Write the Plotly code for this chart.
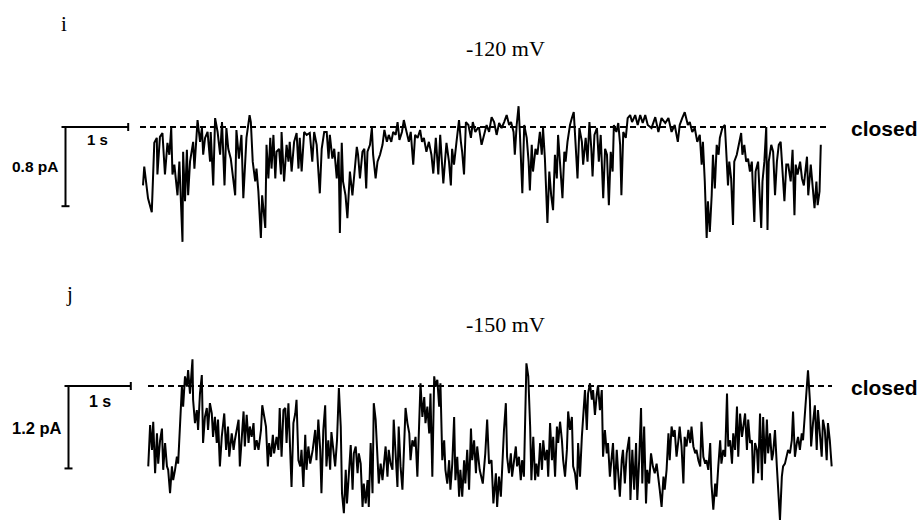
import plotly.graph_objects as go

W, H = 924, 520

# ---------------- data: trace i (-120 mV), time in s, current in pA (0 = closed) ----------------
t1a = [0.00, 0.02, 0.08, 0.14, 0.18, 0.22, 0.23, 0.27, 0.31, 0.35,
       0.39, 0.42, 0.45, 0.47, 0.50, 0.53, 0.55, 0.58, 0.63, 0.64,
       0.67, 0.70, 0.72, 0.75, 0.80, 0.82, 0.87, 0.91, 0.94, 0.96,
       0.99, 1.03, 1.07, 1.08, 1.12, 1.15, 1.19, 1.23, 1.26, 1.30,
       1.33, 1.36, 1.40, 1.47, 1.49, 1.53, 1.57, 1.60, 1.63, 1.65,
       1.70, 1.72, 1.75, 1.79, 1.81, 1.84, 1.88, 1.90, 1.95, 1.97,
       2.00, 2.03, 2.05, 2.08, 2.11, 2.13, 2.17, 2.20, 2.21, 2.25,
       2.29, 2.32, 2.34, 2.37, 2.41, 2.45, 2.48, 2.50, 2.53, 2.57,
       2.61]
i1a = [-0.59, -0.40, -0.72, -0.86, -0.16, -0.11, -0.48, -0.10, -0.06, -0.48,
       -0.16, -0.28, -0.01, -0.48, -0.38, -0.62, -0.69, -0.35, -1.16, -0.25,
       -0.75, -0.23, -0.69, -0.35, -0.15, -0.42, 0.07, -0.15, -0.01, -0.28,
       -0.11, -0.05, -0.35, -0.05, -0.59, 0.09, -0.05, -0.28, 0.05, -0.59,
       -0.01, -0.22, -0.32, -0.69, -0.03, -0.32, -0.08, -0.72, -0.35, -0.11,
       0.12, 0.05, -0.35, -0.55, -0.42, -0.65, -1.12, -0.69, -1.02, -0.18,
       -0.52, -0.11, -0.42, -0.08, -0.52, -0.25, -0.22, -0.48, -0.05, -0.55,
       -0.18, -0.35, -0.15, -0.45, -0.15, -0.06, -0.42, -0.11, -0.45, -0.05,
       -0.08]
t1b = [2.66, 2.70, 2.73, 2.77, 2.82, 2.85, 2.89, 2.93, 2.96, 2.98,
       3.02, 3.05, 3.09, 3.12, 3.14, 3.17, 3.19, 3.23, 3.26, 3.30,
       3.34, 3.37, 3.41, 3.43, 3.46, 3.50, 3.53, 3.56, 3.58, 3.62,
       3.65, 3.67, 3.71, 3.74, 3.78, 3.82, 3.85, 3.89, 3.92, 3.96,
       3.99, 4.03, 4.06, 4.09, 4.13, 4.16, 4.21, 4.24, 4.27, 4.31,
       4.34, 4.38, 4.42, 4.45, 4.48, 4.52, 4.56, 4.60, 4.63, 4.67,
       4.71, 4.74, 4.76, 4.79, 4.82, 4.84, 4.88, 4.91, 4.93, 4.96,
       5.00, 5.04, 5.07, 5.09, 5.12, 5.15, 5.19, 5.23, 5.26, 5.30,
       5.34]
i1b = [-0.06, -0.35, -0.05, -0.18, -0.67, -0.22, -0.05, -0.05, -0.32, -0.08,
       -0.32, -0.22, -0.52, -0.25, -1.07, -0.16, -0.55, -0.69, -0.92, -0.45,
       -0.69, -0.48, -0.20, -0.28, -0.52, -0.25, -0.22, -0.62, -0.25, -0.18,
       -0.01, -0.28, -0.52, -0.35, -0.28, -0.18, -0.03, -0.15, -0.08, -0.15,
       -0.05, -0.08, 0.05, -0.13, -0.05, 0.07, -0.05, -0.15, -0.05, -0.38,
       -0.08, -0.11, -0.03, -0.15, -0.11, -0.25, -0.15, -0.28, -0.47, -0.11,
       -0.48, -0.08, -0.28, -0.57, -0.32, -0.16, -0.35, -0.59, -0.22, -0.38,
       -0.15, 0.07, -0.15, -0.25, -0.48, 0.05, 0.02, -0.11, 0.05, -0.05,
       -0.01]
t1c = [5.36, 5.40, 5.44, 5.48, 5.52, 5.56, 5.60, 5.64, 5.68, 5.72,
       5.76, 5.80, 5.84, 5.87, 5.91, 5.93, 5.96, 5.99, 6.01, 6.05,
       6.08, 6.12, 6.15, 6.17, 6.20, 6.22, 6.26, 6.29, 6.33, 6.36,
       6.38, 6.41, 6.45, 6.48, 6.51, 6.54, 6.57, 6.60, 6.62, 6.65,
       6.69, 6.72, 6.74, 6.77, 6.81, 6.84, 6.87, 6.90, 6.93, 6.96,
       7.00, 7.02, 7.06, 7.09, 7.12, 7.15, 7.17, 7.20, 7.24, 7.27,
       7.30, 7.34, 7.37, 7.40, 7.43, 7.46, 7.49, 7.51, 7.55, 7.58,
       7.61, 7.63, 7.66, 7.70, 7.73, 7.77, 7.80, 7.85, 7.89, 7.93,
       7.97, 8.01, 8.05]
i1c = [-0.01, -0.18, -0.08, 0.02, -0.05, 0.10, 0.05, -0.08, 0.04, -0.01,
       0.05, 0.12, 0.02, 0.05, -0.05, -0.28, 0.02, 0.21, -0.05, -0.67,
       0.02, -0.11, -0.35, -0.64, -0.18, -0.45, -0.22, -0.28, -0.05, -0.28,
       -0.01, -0.32, -0.97, -0.45, -0.69, -0.84, -0.28, -0.52, -0.08, -0.35,
       -0.72, -0.25, -0.35, -0.15, 0.02, 0.09, 0.15, -0.18, -0.52, -0.01,
       -0.15, -0.38, -0.11, -0.35, 0.05, -0.22, -0.50, -0.08, -0.01, -0.35,
       -0.08, -0.72, -0.22, -0.28, -0.79, -0.25, -0.45, 0.02, -0.05, 0.04,
       -0.18, -0.69, -0.05, -0.11, 0.09, 0.12, 0.05, 0.12, 0.02, 0.12,
       0.04, 0.12, 0.02]
t1d = [8.11, 8.17, 8.22, 8.27, 8.33, 8.38, 8.43, 8.48, 8.53, 8.56,
       8.60, 8.64, 8.69, 8.72, 8.76, 8.80, 8.84, 8.88, 8.91, 8.93,
       8.96, 8.99, 9.01, 9.04, 9.07, 9.09, 9.12, 9.15, 9.18, 9.20,
       9.24, 9.28, 9.30, 9.33, 9.35, 9.38, 9.41, 9.43, 9.47, 9.51,
       9.54, 9.56, 9.59, 9.62, 9.65, 9.68, 9.71, 9.75, 9.77, 9.81,
       9.83, 9.86, 9.88, 9.91, 9.94, 9.96, 9.98, 10.02, 10.05, 10.08,
       10.11, 10.14, 10.17, 10.20, 10.23, 10.26, 10.29, 10.33, 10.36, 10.39,
       10.41, 10.44, 10.48, 10.51, 10.54, 10.59, 10.61, 10.65, 10.68, 10.71,
       10.74, 10.76, 10.79, 10.81]
i1d = [-0.01, 0.10, -0.05, 0.09, 0.04, 0.09, -0.05, 0.02, -0.15, 0.02,
       0.09, 0.15, 0.02, 0.05, -0.05, -0.01, -0.15, -0.08, -0.38, -0.15,
       -0.55, -1.12, -0.75, -1.06, -0.69, -0.28, -0.62, -0.18, -0.28, -0.11,
       -0.01, 0.02, -0.22, -0.59, -0.35, -0.52, -0.99, -0.35, -0.28, -0.15,
       -0.06, -0.28, -0.18, -0.35, -0.32, -0.45, -0.35, -0.96, -0.45, -0.35,
       -0.69, -1.02, -0.55, -0.35, 0.00, -1.04, -0.35, -0.18, -0.25, -0.69,
       -0.35, -0.18, -0.15, -0.45, -0.75, -0.38, -0.38, -0.55, -0.23, -0.89,
       -0.38, -0.48, -0.35, -0.52, -0.59, -0.30, -0.69, -0.38, -0.59, -0.82,
       -0.55, -0.79, -0.65, -0.18]

# ---------------- data: trace j (-150 mV) ----------------
t2a = [0.02, 0.05, 0.08, 0.10, 0.13, 0.16, 0.18, 0.21, 0.24, 0.26,
       0.29, 0.32, 0.34, 0.37, 0.40, 0.42, 0.45, 0.48, 0.50, 0.53,
       0.56, 0.58, 0.61, 0.64, 0.66, 0.69, 0.73, 0.74, 0.77, 0.80,
       0.82, 0.85, 0.88, 0.90, 0.93, 0.96, 0.98, 1.01, 1.04, 1.06,
       1.09, 1.12, 1.14, 1.17, 1.20, 1.24, 1.27, 1.30, 1.32, 1.36,
       1.39, 1.41, 1.44, 1.47, 1.49, 1.52, 1.55, 1.57, 1.60, 1.63,
       1.65, 1.68, 1.71, 1.73, 1.76, 1.79, 1.83, 1.85, 1.88, 1.91,
       1.94, 1.96, 1.99, 2.02, 2.04, 2.08, 2.11, 2.13, 2.16, 2.19,
       2.22, 2.24, 2.27, 2.30, 2.32, 2.35, 2.38, 2.40, 2.43, 2.46,
       2.48, 2.51, 2.54, 2.56, 2.59, 2.62, 2.66]
i2a = [-1.17, -0.57, -0.93, -0.52, -1.27, -0.69, -1.13, -0.79, -0.62, -1.22,
       -0.83, -1.17, -1.22, -1.56, -1.17, -1.37, -1.22, -1.03, -1.13, -0.45,
       -0.01, -0.30, 0.14, -0.01, 0.23, -0.11, 0.39, -0.20, -0.54, -0.35,
       -0.64, -0.11, 0.16, -0.83, -0.45, -0.32, -0.64, -0.25, -0.40, -0.74,
       -0.45, -0.83, -0.49, -1.17, -0.74, -0.40, -0.93, -0.59, -1.03, -0.69,
       -0.93, -0.79, -0.64, -0.49, -1.17, -0.74, -0.37, -0.88, -0.42, -0.83,
       -0.59, -0.74, -0.54, -0.93, -0.79, -0.93, -0.64, -0.28, -0.45, -0.59,
       -1.17, -0.83, -1.03, -0.71, -0.98, -0.74, -0.93, -0.32, -1.03, -0.35,
       -0.32, -0.83, -0.25, -0.93, -1.47, -0.54, -0.40, -0.20, -1.08, -1.17,
       -0.93, -1.47, -0.71, -1.22, -0.88, -1.13, -0.93]
t2b = [2.70, 2.72, 2.75, 2.78, 2.80, 2.83, 2.86, 2.88, 2.91, 2.94,
       2.96, 2.99, 3.02, 3.05, 3.08, 3.11, 3.13, 3.16, 3.19, 3.21,
       3.24, 3.27, 3.30, 3.32, 3.35, 3.38, 3.40, 3.43, 3.46, 3.48,
       3.51, 3.54, 3.56, 3.59, 3.62, 3.64, 3.67, 3.70, 3.72, 3.75,
       3.78, 3.80, 3.83, 3.86, 3.88, 3.91, 3.94, 3.96, 3.99, 4.02,
       4.04, 4.07, 4.10, 4.13, 4.15, 4.18, 4.21, 4.23, 4.26, 4.29,
       4.31, 4.34, 4.37, 4.39, 4.42, 4.45, 4.47, 4.50, 4.53, 4.55,
       4.58, 4.61, 4.63, 4.66, 4.69, 4.71, 4.74, 4.77, 4.79, 4.82,
       4.85, 4.87, 4.90, 4.93, 4.95, 4.98, 5.01, 5.03, 5.06, 5.09,
       5.11, 5.14, 5.17, 5.20, 5.22, 5.25, 5.28, 5.30, 5.34, 5.39]
i2b = [-0.64, -1.08, -0.49, -0.93, -1.56, -0.64, -0.28, -1.17, -0.79, -1.22,
       -0.67, -0.93, -1.17, -0.79, -0.03, -0.59, -1.56, -1.85, -1.22, -1.71,
       -1.32, -0.86, -1.51, -0.98, -0.88, -1.27, -0.98, -1.13, -1.76, -1.42,
       -1.71, -1.37, -1.76, -0.83, -1.56, -0.25, -0.49, -1.17, -1.42, -1.13,
       -1.37, -1.17, -0.88, -1.32, -0.93, -1.13, -1.22, -0.49, -1.03, -1.47,
       -0.59, -1.17, -1.51, -0.59, -0.32, -0.54, -0.69, -1.08, -0.79, -0.88,
       -0.74, -1.32, -0.40, 0.04, -0.45, -0.16, -0.54, -0.30, -0.69, -0.11,
       -1.32, 0.14, -0.01, 0.09, -0.30, 0.04, -1.08, -0.79, -1.22, -1.42,
       -1.08, -1.51, -1.13, -0.45, -1.37, -1.03, -1.61, -1.22, -1.61, -1.08,
       -1.42, -0.93, -1.51, -0.62, -1.08, -0.79, -1.27, -0.88, -1.22, -1.42]
t2c = [5.43, 5.46, 5.49, 5.53, 5.56, 5.60, 5.62, 5.65, 5.68, 5.70,
       5.73, 5.76, 5.78, 5.81, 5.84, 5.86, 5.89, 5.92, 5.94, 5.97,
       6.00, 6.02, 6.05, 6.08, 6.09, 6.12, 6.15, 6.17, 6.20, 6.23,
       6.25, 6.28, 6.31, 6.34, 6.36, 6.39, 6.42, 6.44, 6.47, 6.50,
       6.52, 6.55, 6.58, 6.60, 6.63, 6.66, 6.68, 6.71, 6.74, 6.76,
       6.79, 6.82, 6.84, 6.87, 6.90, 6.92, 6.95, 6.98, 7.00, 7.03,
       7.06, 7.08, 7.11, 7.14, 7.16, 7.19, 7.22, 7.24, 7.27, 7.30,
       7.32, 7.35, 7.38, 7.40, 7.43, 7.46, 7.48, 7.51, 7.54, 7.56,
       7.59, 7.62, 7.64, 7.67, 7.70, 7.74, 7.76, 7.79, 7.82, 7.85,
       7.87, 7.90, 7.93, 7.95, 7.98, 8.01, 8.03, 8.06, 8.09, 8.12]
i2c = [-0.98, -0.49, -1.13, -1.08, -1.71, -1.27, -1.76, -1.32, -1.61, -1.17,
       -0.64, -0.25, -1.03, -1.27, -0.98, -1.32, -1.13, -0.88, -1.17, -1.03,
       -1.37, -1.08, -1.32, -0.16, 0.33, 0.14, -0.59, -1.37, -0.74, -1.37,
       -1.13, -1.32, -0.83, -1.22, -0.79, -1.08, -0.93, -1.32, -0.54, -1.08,
       -0.74, -1.32, -0.59, -0.83, -0.52, -0.79, -1.08, -1.32, -0.93, -0.37,
       -0.64, -0.45, -1.17, -1.27, -1.51, -0.83, -1.32, -0.74, -0.45, -0.06,
       -0.64, -0.11, 0.04, -0.20, -0.06, -0.42, -0.11, 0.01, -0.35, -0.06,
       -1.03, -0.64, -0.98, -0.83, -1.32, -1.03, -0.83, -1.51, -0.93, -1.22,
       -1.61, -1.08, -0.93, -1.42, -0.98, -0.74, -1.66, -0.93, -1.51, -0.83,
       -1.66, -1.08, -0.32, -1.42, -0.59, -1.71, -1.22, -1.42, -0.98, -1.17]
t2d = [8.15, 8.18, 8.21, 8.23, 8.26, 8.29, 8.31, 8.34, 8.37, 8.39,
       8.42, 8.45, 8.47, 8.50, 8.53, 8.55, 8.58, 8.61, 8.63, 8.66,
       8.69, 8.72, 8.74, 8.77, 8.80, 8.82, 8.85, 8.88, 8.90, 8.93,
       8.96, 8.98, 9.01, 9.04, 9.06, 9.09, 9.12, 9.14, 9.17, 9.20,
       9.22, 9.25, 9.28, 9.31, 9.33, 9.36, 9.39, 9.41, 9.44, 9.47,
       9.49, 9.52, 9.55, 9.57, 9.60, 9.63, 9.65, 9.68, 9.71, 9.73,
       9.76, 9.79, 9.81, 9.84, 9.87, 9.89, 9.92, 9.95, 9.97, 10.00,
       10.03, 10.05, 10.08, 10.11, 10.13, 10.16, 10.19, 10.21, 10.24, 10.27,
       10.29, 10.32, 10.35, 10.37, 10.40, 10.43, 10.45, 10.48, 10.51, 10.53,
       10.56, 10.58, 10.61, 10.64, 10.66, 10.69, 10.72, 10.75, 10.77, 10.80,
       10.83, 10.85, 10.88, 10.91, 10.93, 10.96, 10.99]
i2d = [-1.27, -1.13, -1.42, -1.51, -1.76, -1.32, -1.51, -1.22, -0.69, -1.08,
       -0.59, -0.74, -0.64, -1.03, -0.79, -0.59, -0.88, -1.42, -0.74, -0.88,
       -0.64, -0.83, -0.59, -0.88, -0.98, -0.93, -1.08, -1.17, -0.52, -1.03,
       -1.13, -1.08, -1.22, -0.83, -1.42, -1.80, -1.42, -1.61, -1.17, -0.79,
       -1.13, -0.93, -1.03, -0.11, -0.88, -0.79, -1.13, -0.69, -0.93, -0.30,
       -1.03, -0.40, -0.74, -0.59, -0.40, -0.93, -0.49, -0.83, -0.79, -1.42,
       -0.83, -0.93, -1.27, -0.40, -1.37, -0.45, -1.13, -0.49, -0.98, -0.69,
       -1.08, -0.98, -0.64, -1.17, -1.56, -1.95, -1.32, -1.17, -1.13, -1.03,
       -0.93, -0.98, -0.79, -0.37, -1.03, -0.83, -0.74, -0.93, -0.69, -0.79,
       -0.45, -0.16, 0.23, -0.20, -0.88, -0.54, -0.28, -0.93, -0.35, -0.69,
       -1.03, -0.49, -0.64, -1.08, -0.54, -0.79, -1.17]

t1 = t1a + t1b + t1c + t1d
i1 = i1a + i1b + i1c + i1d
t2 = t2a + t2b + t2c + t2d
i2 = i2a + i2b + i2c + i2d
assert len(t1) == len(i1) and len(t2) == len(i2)

# scale bars / levels
SCALE_T = 1.0        # s
SCALE_I1 = 0.8       # pA
SCALE_I2 = 1.2       # pA
CLOSED = 0.0         # pA
VOLT_LABELS = ["-120 mV", "-150 mV"]
PANEL_LABELS = ["i", "j"]

# ---------------- geometry (pixels) ----------------
P1 = dict(x0=143.0, y0=127.0, sx=62.7, sy=99.0, bar_x=65.5, dash=(140, 826))
P2 = dict(x0=147.0, y0=386.0, sx=62.3, sy=68.7, bar_x=68.5, dash=(148, 832))


def xrange_of(p):
    return [-p["x0"] / p["sx"], (W - p["x0"]) / p["sx"]]


def yrange_of(p):
    return [-(H - p["y0"]) / p["sy"], p["y0"] / p["sy"]]


def px_to_t(p, px):
    return (px - p["x0"]) / p["sx"]


fig = go.Figure()
fig.add_trace(go.Scatter(x=t1, y=i1, mode="lines", xaxis="x", yaxis="y",
                         line=dict(color="black", width=2), hoverinfo="skip"))
fig.add_trace(go.Scatter(x=t2, y=i2, mode="lines", xaxis="x2", yaxis="y2",
                         line=dict(color="black", width=2), hoverinfo="skip"))

shapes = []


def seg(xref, yref, x0, y0, x1, y1, dash=None, width=2):
    shapes.append(dict(type="line", xref=xref, yref=yref, x0=x0, y0=y0, x1=x1, y1=y1,
                       line=dict(color="black", width=width, dash=dash), layer="above"))


for p, xref, yref, s_i in [(P1, "x", "y", SCALE_I1), (P2, "x2", "y2", SCALE_I2)]:
    # closed level
    seg(xref, yref, px_to_t(p, p["dash"][0]), CLOSED, px_to_t(p, p["dash"][1]), CLOSED,
        dash="6px,4px", width=2)
    # scale bars
    tb = px_to_t(p, p["bar_x"])
    cap_t = 4.0 / p["sx"]
    cap_i = 4.0 / p["sy"]
    seg(xref, yref, tb, CLOSED, tb + SCALE_T, CLOSED)
    seg(xref, yref, tb + SCALE_T, CLOSED - cap_i, tb + SCALE_T, CLOSED + cap_i)
    seg(xref, yref, tb, CLOSED, tb, CLOSED - s_i)
    seg(xref, yref, tb - cap_t, CLOSED, tb + cap_t, CLOSED)
    seg(xref, yref, tb - cap_t, CLOSED - s_i, tb + cap_t, CLOSED - s_i)

SERIF = "Liberation Serif, Times New Roman, serif"
SANS = "Liberation Sans, Arial, sans-serif"


def ann(text, px, py, size, family, xanchor="center"):
    return dict(text=text, x=px / W, y=1 - py / H, xref="paper", yref="paper",
                xanchor=xanchor, yanchor="middle", showarrow=False,
                font=dict(size=size, family=family, color="black"))


annotations = [
    ann(PANEL_LABELS[0], 64, 24, 21, SERIF),
    ann(VOLT_LABELS[0], 505, 48, 22, SERIF),
    ann("<b>closed</b>", 849, 128, 21, SANS, "left"),
    ann("<b>0.8 pA</b>", 35, 167, 15.5, SANS),
    ann("<b>1 s</b>", 97, 140, 15, SANS),
    ann(PANEL_LABELS[1], 69, 294, 21, SERIF),
    ann(VOLT_LABELS[1], 505, 324, 22, SERIF),
    ann("<b>closed</b>", 849, 387, 21, SANS, "left"),
    ann("<b>1.2 pA</b>", 37, 428, 16.5, SANS),
    ann("<b>1 s</b>", 100, 401, 16, SANS),
]

hidden = dict(visible=False, showgrid=False, zeroline=False, fixedrange=True)
fig.update_layout(
    width=W, height=H,
    margin=dict(l=0, r=0, t=0, b=0),
    paper_bgcolor="white", plot_bgcolor="white",
    showlegend=False,
    xaxis=dict(domain=[0, 1], range=xrange_of(P1), anchor="y", **hidden),
    yaxis=dict(domain=[0, 1], range=yrange_of(P1), anchor="x", **hidden),
    xaxis2=dict(range=xrange_of(P2), overlaying="x", anchor="y2", **hidden),
    yaxis2=dict(range=yrange_of(P2), overlaying="y", anchor="x2", **hidden),
    shapes=shapes,
    annotations=annotations,
)

fig.write_html("out.html", config={"displayModeBar": False, "staticPlot": True},
               post_script="document.body.style.margin='0';document.body.style.overflow='hidden';")
